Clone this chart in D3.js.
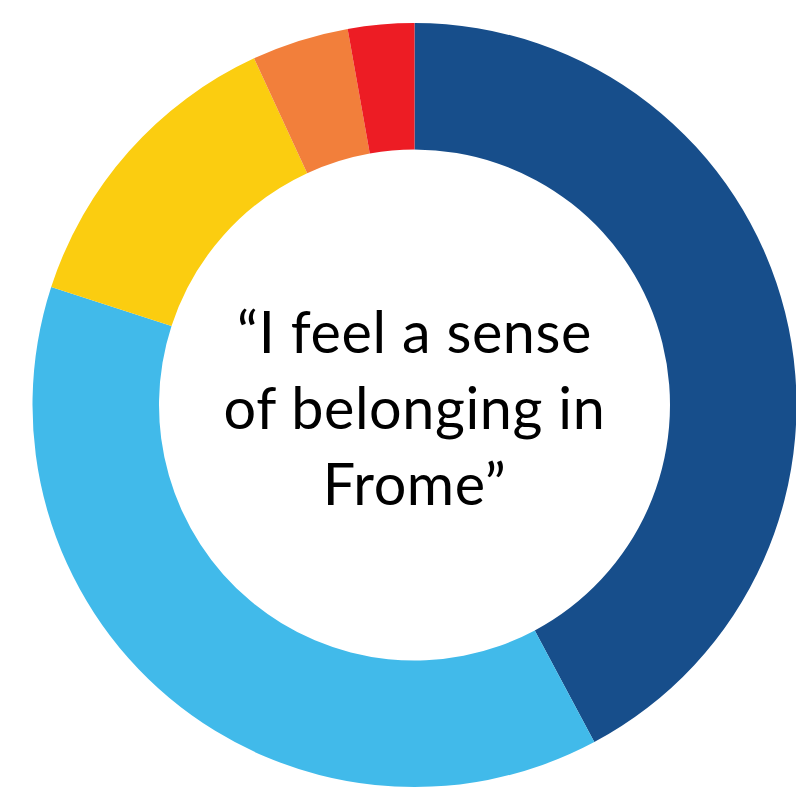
<!DOCTYPE html>
<html>
<head>
<meta charset="utf-8">
<script src="https://cdn.jsdelivr.net/npm/d3@7"></script>
<style>
  html, body { margin: 0; padding: 0; background: #ffffff; }
  svg { display: block; }
</style>
</head>
<body>
<svg id="chart" width="796" height="788"></svg>
<script>
// Data
const categories = ["Strongly agree", "Agree", "Neither agree nor disagree", "Disagree", "Strongly disagree"];
const values = [42.2, 37.8, 13.1, 4.1, 2.8];
const colors = ["#174e8b", "#41baea", "#fbcd10", "#f27f3b", "#ed1c24"];
const titleLines = ["\u201CI feel a sense", "of belonging in", "Frome\u201D"];

const svg = d3.select("#chart");
const cx = 414.5, cy = 405, outerR = 382, innerR = 255.5;

const pie = d3.pie().sort(null).value(d => d.value).startAngle(0).endAngle(2 * Math.PI);
const arc = d3.arc().innerRadius(innerR).outerRadius(outerR);
const color = d3.scaleOrdinal().domain(categories).range(colors);

const data = categories.map((c, i) => ({ category: c, value: values[i] }));

const g = svg.append("g").attr("transform", `translate(${cx},${cy})`);
g.selectAll("path")
  .data(pie(data))
  .join("path")
  .attr("d", arc)
  .attr("fill", d => color(d.data.category));

const text = g.append("text")
  .attr("text-anchor", "middle")
  .attr("font-family", "Lato, 'Open Sans', sans-serif")
  .attr("font-weight", 400)
  .attr("font-size", 57.5)
  .attr("letter-spacing", 0.6)
  .attr("fill", "#000000");
const baselines = [-52.5, 23.5, 100];
text.selectAll("tspan")
  .data(titleLines)
  .join("tspan")
  .attr("x", 0)
  .attr("y", (d, i) => baselines[i])
  .text(d => d);
</script>
</body>
</html>
